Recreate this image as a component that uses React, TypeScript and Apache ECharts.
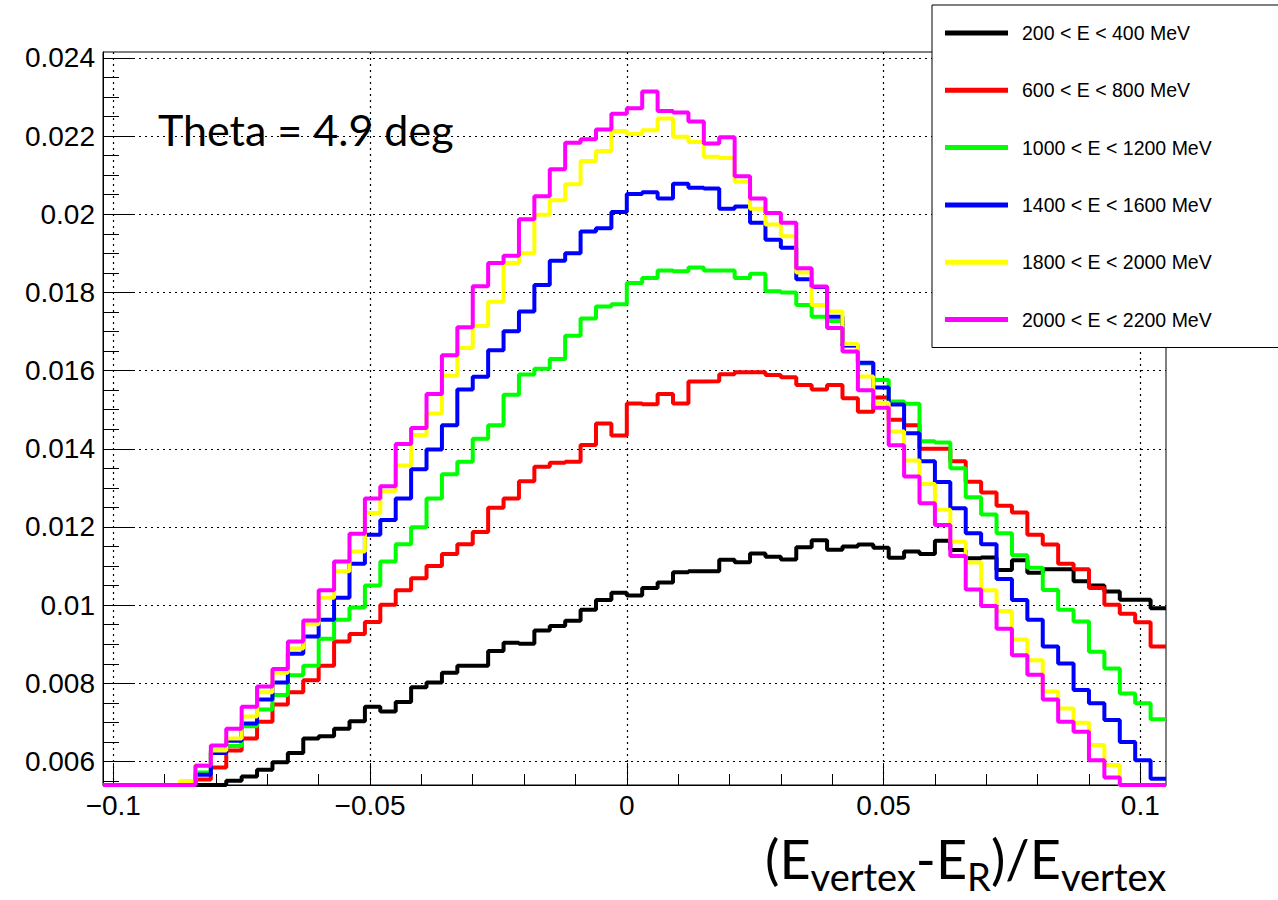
import React, { useEffect, useRef } from 'react';
import * as echarts from 'echarts';

// Histogram binning (69 bins of width 0.003 starting at -0.102)
const BIN_MIN = -0.102;
const BIN_WIDTH = 0.003;

const X_MIN = -0.102;
const X_MAX = 0.105;
const Y_MIN = 0.0054;
const Y_MAX = 0.02415;

const seriesNames = [
  '200 < E < 400 MeV',
  '600 < E < 800 MeV',
  '1000 < E < 1200 MeV',
  '1400 < E < 1600 MeV',
  '1800 < E < 2000 MeV',
  '2000 < E < 2200 MeV',
];
const seriesColors = ['#000000', '#ff0000', '#00ff00', '#0000ff', '#ffff00', '#ff00ff'];

const e200 = [
  0.0054, 0.0054, 0.0054, 0.0054, 0.0054, 0.0054, 0.0054, 0.0054, 0.00551, 0.00562,
  0.00579, 0.00598, 0.00622, 0.00659, 0.00665, 0.00684, 0.00703, 0.0074, 0.00728, 0.00752,
  0.0079, 0.00802, 0.00827, 0.00845, 0.00845, 0.00883, 0.00904, 0.00901, 0.00935, 0.00947,
  0.0096, 0.00988, 0.01013, 0.01032, 0.01025, 0.01044, 0.01058, 0.01084, 0.01087, 0.01087,
  0.01116, 0.0111, 0.01132, 0.01124, 0.01117, 0.01148, 0.01166, 0.01142, 0.0115, 0.01155,
  0.01147, 0.01121, 0.01137, 0.01131, 0.01165, 0.01141, 0.0112, 0.01122, 0.0109, 0.01115,
  0.01083, 0.01092, 0.01092, 0.01061, 0.0105, 0.01035, 0.01014, 0.01014, 0.00992,
];
const e600 = [
  0.0054, 0.0054, 0.0054, 0.0054, 0.0054, 0.0054, 0.00554, 0.00585, 0.00628, 0.00659,
  0.00702, 0.00746, 0.00777, 0.00808, 0.00845, 0.00907, 0.00926, 0.00957, 0.01001, 0.01038,
  0.01069, 0.011, 0.01131, 0.01156, 0.01187, 0.01249, 0.01273, 0.01317, 0.01354, 0.01364,
  0.01367, 0.0141, 0.01465, 0.01434, 0.01516, 0.01514, 0.0154, 0.01516, 0.01572, 0.01573,
  0.01591, 0.01596, 0.01596, 0.01589, 0.01583, 0.01563, 0.01552, 0.01563, 0.01529, 0.01495,
  0.01531, 0.01474, 0.0146, 0.014, 0.014, 0.01368, 0.01316, 0.01288, 0.01254, 0.01237,
  0.0118, 0.01155, 0.01106, 0.01092, 0.01044, 0.01001, 0.00978, 0.00956, 0.00894,
];
const e1000 = [
  0.0054, 0.0054, 0.0054, 0.0054, 0.0054, 0.0054, 0.00572, 0.00628, 0.0064, 0.0069,
  0.00733, 0.0077, 0.00821, 0.00845, 0.00914, 0.00963, 0.00994, 0.0105, 0.01112, 0.01156,
  0.01199, 0.01273, 0.01335, 0.01367, 0.01426, 0.0146, 0.01538, 0.0159, 0.01605, 0.0163,
  0.01689, 0.01733, 0.01764, 0.0177, 0.01824, 0.01837, 0.01856, 0.01854, 0.01864, 0.01856,
  0.01856, 0.01837, 0.01848, 0.01803, 0.018, 0.01768, 0.01738, 0.01727, 0.01664, 0.01618,
  0.01576, 0.01521, 0.01515, 0.01419, 0.01416, 0.0135, 0.01276, 0.01232, 0.01184, 0.01128,
  0.01096, 0.01039, 0.00988, 0.00958, 0.00881, 0.00838, 0.00774, 0.00749, 0.00708,
];
const e1400 = [
  0.0054, 0.0054, 0.0054, 0.0054, 0.0054, 0.0054, 0.00566, 0.00622, 0.00653, 0.00697,
  0.00759, 0.00802, 0.00876, 0.0092, 0.00963, 0.01019, 0.01106, 0.0118, 0.01218, 0.01273,
  0.01348, 0.01398, 0.0146, 0.01552, 0.01584, 0.01652, 0.01701, 0.01751, 0.01819, 0.01881,
  0.019, 0.01956, 0.01964, 0.02006, 0.02052, 0.02056, 0.0204, 0.02078, 0.02068, 0.02066,
  0.02014, 0.0202, 0.01978, 0.01935, 0.01914, 0.01834, 0.01814, 0.01738, 0.01664, 0.0162,
  0.01557, 0.01513, 0.0144, 0.01368, 0.01315, 0.01248, 0.01184, 0.01156, 0.01067, 0.01013,
  0.00963, 0.00894, 0.00851, 0.00783, 0.00749, 0.00706, 0.0065, 0.00603, 0.00556,
];
const e1800 = [
  0.0054, 0.0054, 0.0054, 0.0054, 0.0054, 0.0055, 0.00591, 0.00628, 0.00659, 0.00715,
  0.00777, 0.00827, 0.00889, 0.00951, 0.01019, 0.01087, 0.01137, 0.01236, 0.01292, 0.01357,
  0.01435, 0.0149, 0.01587, 0.01658, 0.01714, 0.01776, 0.01875, 0.019, 0.01999, 0.02036,
  0.02077, 0.02136, 0.02162, 0.02213, 0.02205, 0.02215, 0.02245, 0.02198, 0.02185, 0.02147,
  0.02144, 0.02083, 0.02014, 0.01974, 0.01944, 0.01851, 0.01768, 0.01751, 0.01668, 0.01585,
  0.01518, 0.01444, 0.0137, 0.0131, 0.01244, 0.01162, 0.01109, 0.01038, 0.00985, 0.00912,
  0.00859, 0.00779, 0.00736, 0.00699, 0.00642, 0.00591, 0.0054, 0.0054, 0.0054,
];
const e2000 = [
  0.0054, 0.0054, 0.0054, 0.0054, 0.0054, 0.0054, 0.00589, 0.00641, 0.00684, 0.0074,
  0.00792, 0.00837, 0.00907, 0.00961, 0.01038, 0.01112, 0.01183, 0.01273, 0.01304, 0.01412,
  0.01453, 0.0154, 0.01639, 0.01711, 0.01816, 0.01875, 0.01894, 0.01987, 0.02046, 0.02115,
  0.02183, 0.02192, 0.02217, 0.02257, 0.02271, 0.02314, 0.02264, 0.0226, 0.02237, 0.02181,
  0.02197, 0.02097, 0.0204, 0.02003, 0.01978, 0.01862, 0.01815, 0.01709, 0.01649, 0.0155,
  0.01505, 0.01409, 0.01329, 0.01261, 0.01205, 0.01126, 0.0104, 0.00998, 0.0094, 0.00872,
  0.00822, 0.00759, 0.00702, 0.00676, 0.00603, 0.00559, 0.0054, 0.0054, 0.0054,
];
const seriesValues = [e200, e600, e1000, e1400, e1800, e2000];

const xMajorTicks = [-0.1, -0.05, 0, 0.05, 0.1];
const xMinorTicks = [-0.1, -0.09, -0.08, -0.07, -0.06, -0.05, -0.04, -0.03, -0.02, -0.01, 0,
  0.01, 0.02, 0.03, 0.04, 0.05, 0.06, 0.07, 0.08, 0.09, 0.1];
const yMajorTicks = [0.006, 0.008, 0.01, 0.012, 0.014, 0.016, 0.018, 0.02, 0.022, 0.024];
const yMinorTicks: number[] = [];
for (let k = 11; k <= 48; k++) yMinorTicks.push(Math.round(k * 5) / 10000);

const round6 = (v: number) => Math.round(v * 1e6) / 1e6;

function toSteps(values: number[]) {
  const pts = values.map((v, i) => [round6(BIN_MIN + i * BIN_WIDTH), v]);
  pts.push([round6(BIN_MIN + values.length * BIN_WIDTH), values[values.length - 1]]);
  return pts;
}

const labelFont = 'Liberation Sans, Arial, Helvetica, sans-serif';
const titleFont = 'Lato, Open Sans, sans-serif';
const gridLineStyle = { color: '#000', type: [2, 4], width: 1.2 };

export default function App() {
  const ref = useRef<HTMLDivElement>(null);

  useEffect(() => {
    if (!ref.current) return;
    const chart = echarts.init(ref.current, undefined, { renderer: 'svg' });

    const dataSeries = seriesNames.map((name, i) => ({
      type: 'line',
      name,
      data: toSteps(seriesValues[i]),
      step: 'end',
      showSymbol: false,
      symbol: 'none',
      clip: false,
      z: 3,
      color: seriesColors[i],
      itemStyle: { color: seriesColors[i] },
      lineStyle: { color: seriesColors[i], width: 4 },
      xAxisIndex: 0,
      yAxisIndex: 0,
    }));

    const option: any = {
      animation: false,
      backgroundColor: '#ffffff',
      grid: {
        left: 103,
        right: 112,
        top: 52,
        bottom: 115,
        show: true,
        borderColor: '#000',
        borderWidth: 1,
        backgroundColor: 'transparent',
        containLabel: false,
      },
      xAxis: [
        {
          type: 'value',
          min: X_MIN,
          max: X_MAX,
          position: 'bottom',
          axisLine: { show: true, onZero: false, lineStyle: { color: '#000', width: 1 } },
          axisTick: {
            show: true,
            inside: true,
            length: 22,
            customValues: xMajorTicks,
            lineStyle: { color: '#000', width: 1 },
          },
          axisLabel: {
            customValues: xMajorTicks,
            formatter: (v: number) => (v < 0 ? '\u2212' + String(Math.abs(v)) : String(v)),
            color: '#000',
            fontSize: 28,
            fontFamily: labelFont,
            margin: 6,
          },
          splitLine: { show: true, lineStyle: gridLineStyle },
        },
        {
          type: 'value',
          min: X_MIN,
          max: X_MAX,
          position: 'bottom',
          axisLine: { show: false, onZero: false },
          axisTick: {
            show: true,
            inside: true,
            length: 11,
            customValues: xMinorTicks,
            lineStyle: { color: '#000', width: 1 },
          },
          axisLabel: { show: false },
          splitLine: { show: false },
        },
      ],
      yAxis: [
        {
          type: 'value',
          min: Y_MIN,
          max: Y_MAX,
          position: 'left',
          axisLine: { show: true, onZero: false, lineStyle: { color: '#000', width: 1 } },
          axisTick: {
            show: true,
            inside: true,
            length: 31,
            customValues: yMajorTicks,
            lineStyle: { color: '#000', width: 1 },
          },
          axisLabel: {
            customValues: yMajorTicks,
            formatter: (v: number) => String(v),
            color: '#000',
            fontSize: 28,
            fontFamily: labelFont,
            margin: 8,
          },
          splitLine: { show: true, lineStyle: gridLineStyle },
        },
        {
          type: 'value',
          min: Y_MIN,
          max: Y_MAX,
          position: 'left',
          axisLine: { show: false, onZero: false },
          axisTick: {
            show: true,
            inside: true,
            length: 16,
            customValues: yMinorTicks,
            lineStyle: { color: '#000', width: 1 },
          },
          axisLabel: { show: false },
          splitLine: { show: false },
        },
      ],
      legend: {
        data: seriesNames,
        orient: 'vertical',
        left: 932,
        top: 5,
        padding: [18, 140, 18, 13],
        itemWidth: 63,
        itemHeight: 5,
        itemGap: 37.3,
        icon: 'rect',
        selectedMode: false,
        backgroundColor: '#ffffff',
        borderColor: '#000',
        borderWidth: 1,
        borderRadius: 0,
        z: 10,
        textStyle: {
          fontFamily: labelFont,
          fontSize: 19.5,
          color: '#000',
          lineHeight: 20,
          padding: [0, 0, 0, 9],
        },
      },
      graphic: [
        {
          type: 'text',
          x: 158,
          y: 129,
          z: 20,
          style: {
            text: 'Theta = 4.9 deg',
            fontSize: 43,
            fontFamily: titleFont,
            fill: '#000',
            align: 'left',
            verticalAlign: 'middle',
          },
        },
        {
          type: 'text',
          x: 765,
          y: 858,
          z: 20,
          style: {
            text: '{m|(E}{s|vertex}{m|-E}{s|R}{m|)/E}{s|vertex}',
            fill: '#000',
            align: 'left',
            verticalAlign: 'middle',
            rich: {
              m: {
                fontSize: 54,
                fontFamily: titleFont,
                lineHeight: 60,
                verticalAlign: 'middle',
                fill: '#000',
              },
              s: {
                fontSize: 38,
                fontFamily: titleFont,
                height: 24,
                verticalAlign: 'bottom',
                fill: '#000',
              },
            },
          },
        },
      ],
      series: dataSeries,
    };

    chart.setOption(option);
    return () => {
      chart.dispose();
    };
  }, []);

  return (
    <div
      ref={ref}
      style={{ position: 'absolute', left: 0, top: 0, width: 1278, height: 900, background: '#fff' }}
    />
  );
}
